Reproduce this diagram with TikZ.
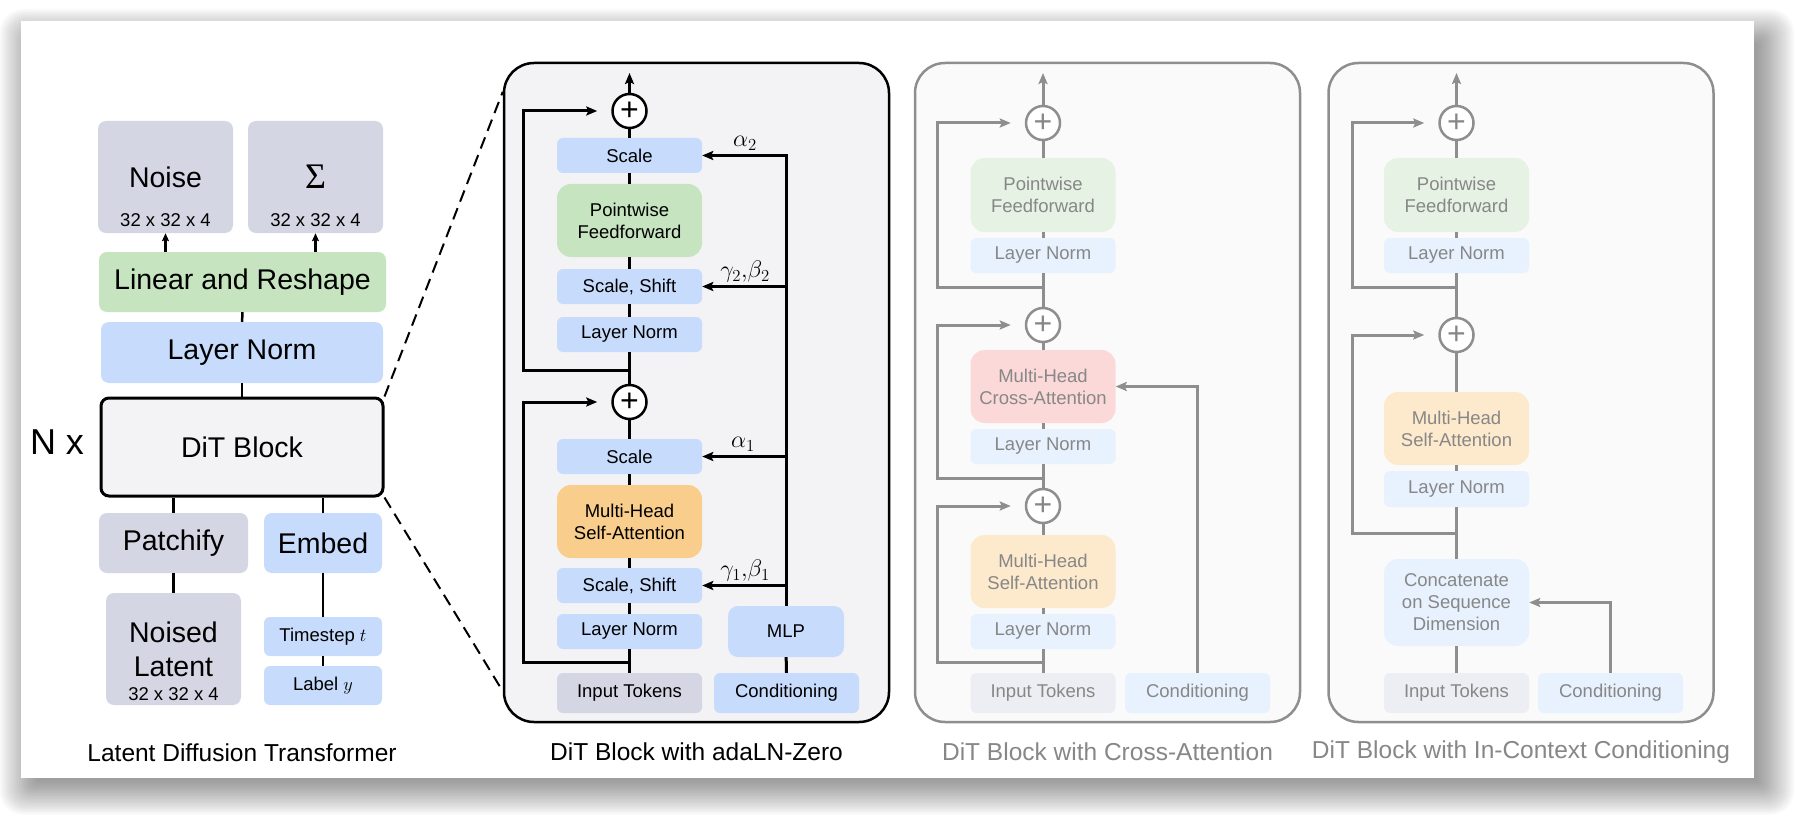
\documentclass[tikz,border=0pt]{standalone}
\usepackage{fix-cm}
\usepackage{fontspec}
\setmainfont{Liberation Sans}
\newfontfamily\greekserif{Liberation Serif}
\usetikzlibrary{arrows.meta,positioning}

\definecolor{tokgray}{RGB}{213,214,227}
\definecolor{ffngreen}{RGB}{197,228,191}
\definecolor{normblue}{RGB}{199,219,252}
\definecolor{attnorange}{RGB}{249,205,140}
\definecolor{panelfill}{RGB}{243,243,245}
\definecolor{tokgrayL}{RGB}{237,238,243}
\definecolor{ffngreenL}{RGB}{230,242,227}
\definecolor{normblueL}{RGB}{232,241,254}
\definecolor{attnorangeL}{RGB}{253,233,204}
\definecolor{crossred}{RGB}{252,217,217}
\definecolor{panelfillL}{RGB}{250,250,250}
\definecolor{fadeline}{RGB}{142,142,142}
\definecolor{fadetext}{RGB}{135,135,135}

\begin{document}
\begin{tikzpicture}[
  x=1pt, y=1pt,
  >={Stealth[length=11pt, width=9pt, inset=2pt]},
  box/.style     = {rounded corners=6pt, minimum width=145pt, minimum height=35pt, inner sep=0pt, align=center, font=\fontsize{18.5}{22}\selectfont},
  tallbox/.style = {box, minimum height=73pt, rounded corners=14pt},
  bigbox/.style  = {box, rounded corners=8pt, font=\fontsize{28.5}{34}\selectfont},
  sum/.style     = {draw, circle, fill=white, line width=2.5pt, minimum size=34pt, inner sep=0pt, font=\fontsize{32}{32}\selectfont},
  panel/.style   = {draw, line width=2.5pt, rounded corners=30pt, minimum width=385pt, minimum height=659pt},
  conn/.style    = {line width=3pt},
  line/.style    = {->, line width=3pt},
  lconn/.style   = {line width=2.5pt},
  smallarrow/.style = {line width=2.5pt, -{Stealth[length=8pt, width=7pt, inset=1.5pt]}},
  dashlink/.style = {line width=2pt, dash pattern=on 12pt off 7pt},
  fbox/.style    = {box, text=fadetext},
  ftallbox/.style = {tallbox, text=fadetext},
  fsum/.style    = {sum, draw=fadeline, text=fadetext},
  fconn/.style   = {conn, draw=fadeline},
  fline/.style   = {line, draw=fadeline},
  note/.style    = {font=\fontsize{24}{24}\selectfont, inner sep=0pt, anchor=base},
  dims/.style    = {font=\fontsize{18.5}{22}\selectfont, inner sep=0pt},
  caption/.style = {font=\fontsize{24.5}{28}\selectfont, inner sep=0pt}
]
\useasboundingbox (0,0) rectangle (1796,-821);

% Card with soft shadow
\foreach \i in {1,...,24}
  \fill[black, opacity=0.018, rounded corners=\i pt] (38-1.6*\i,-45+1.5*\i) rectangle (1756+1.6*\i,-780-1.45*\i);
\fill[white] (21,-21) rectangle (1754,-778);

% Latent Diffusion Transformer
\node[bigbox, fill=tokgray, minimum width=135pt, minimum height=112pt] (noise) at (165.5,-177) {Noise};
\node[dims] (noisedim) at (165.5,-220) {32 x 32 x 4};
\node[bigbox, fill=tokgray, minimum width=135pt, minimum height=112pt, font=\fontsize{36}{36}\greekserif] (sigma) at (315.5,-177) {Σ};
\node[dims] (sigmadim) at (315.5,-220) {32 x 32 x 4};
\node[bigbox, fill=ffngreen, minimum width=287pt, minimum height=60pt] (linear) at (242.5,-282) {Linear and Reshape};
\node[bigbox, fill=normblue, minimum width=282pt, minimum height=61pt] (lnorm) at (242,-352.5) {Layer Norm};
\node[bigbox, draw, fill=panelfill, line width=3pt, minimum width=282pt, minimum height=98pt] (dit) at (242,-447) {DiT Block};
\node[font=\fontsize{36}{36}\selectfont, inner sep=0pt] (nx) at (57,-442) {N x};
\node[bigbox, fill=tokgray, minimum width=149pt, minimum height=60pt] (patchify) at (173.5,-543) {Patchify};
\node[bigbox, fill=normblue, minimum width=118pt, minimum height=60pt] (embed) at (323,-543) {Embed};
\node[bigbox, fill=tokgray, minimum width=135pt, minimum height=112pt] (noised) at (173.5,-649) {Noised\\Latent};
\node[dims] (noiseddim) at (173.5,-694) {32 x 32 x 4};
\node[box, fill=normblue, minimum width=118pt, minimum height=39pt] (timestep) at (323,-636.5) {Timestep $t$};
\node[box, fill=normblue, minimum width=118pt, minimum height=39pt] (label) at (323,-685.5) {Label $y$};
\node[caption] (ldtcap) at (242,-753) {Latent Diffusion Transformer};

\draw[smallarrow] (noise.south |- linear.north) -- (noise.south);
\draw[smallarrow] (sigma.south |- linear.north) -- (sigma.south);
\draw[lconn] (linear) -- (lnorm);
\draw[lconn] (lnorm) -- (dit);
\draw[lconn] (patchify.north |- dit.south) -- (patchify.north);
\draw[lconn] (embed.north |- dit.south) -- (embed.north);
\draw[lconn] (patchify) -- (noised);
\draw[lconn] (embed) -- (timestep);
\draw[lconn] (timestep) -- (label);

% DiT Block with adaLN-Zero
\node[panel, fill=panelfill] (adapanel) at (696.5,-392.5) {};
\draw[dashlink] (dit.north east) -- ([yshift=-30pt]adapanel.north west);
\draw[dashlink] (dit.south east) -- ([yshift=32pt]adapanel.south west);

\node[box, fill=tokgray, minimum height=40pt] (tokA) at (629.5,-693) {Input Tokens};
\node[box, fill=normblue] (normA1) at (629.5,-631.5) {Layer Norm};
\node[box, fill=normblue] (shiftA1) at (629.5,-585.5) {Scale, Shift};
\node[tallbox, fill=attnorange] (attnA) at (629.5,-521.5) {Multi-Head\\Self-Attention};
\node[box, fill=normblue] (scaleA1) at (629.5,-456.5) {Scale};
\node[sum] (plusA1) at (629.5,-402) {+};
\node[box, fill=normblue] (normA2) at (629.5,-334.5) {Layer Norm};
\node[box, fill=normblue] (shiftA2) at (629.5,-286.5) {Scale, Shift};
\node[tallbox, fill=ffngreen] (ffnA) at (629.5,-220.5) {Pointwise\\Feedforward};
\node[box, fill=normblue] (scaleA2) at (629.5,-155.5) {Scale};
\node[sum] (plusA2) at (629.5,-111) {+};
\node[box, fill=normblue, minimum height=40pt] (condA) at (786.5,-693) {Conditioning};
\node[box, fill=normblue, minimum width=116pt, minimum height=51pt, rounded corners=10pt] (mlpA) at (786,-631.5) {MLP};
\coordinate (outA) at (629.5,-73);
\coordinate (skipA1) at (629.5,-662);
\coordinate (skipA2) at (629.5,-370);
\coordinate (leftA) at (523,0);

\foreach \a/\b in {tokA/normA1, normA1/shiftA1, shiftA1/attnA, attnA/scaleA1, scaleA1/plusA1,
                   plusA1/normA2, normA2/shiftA2, shiftA2/ffnA, ffnA/scaleA2, scaleA2/plusA2}
  \draw[conn] (\a) -- (\b);
\draw[line] (plusA2) -- (outA);
\draw[line, shorten >=14pt] (skipA1) -| (leftA |- plusA1) -- (plusA1);
\draw[line, shorten >=14pt] (skipA2) -| (leftA |- plusA2) -- (plusA2);

\draw[conn] (condA) -- (mlpA);
\draw[line] (mlpA.north) |- (scaleA2.east);
\foreach \b in {shiftA2, scaleA1, shiftA1}
  \draw[line] (mlpA.north |- \b.east) -- (\b.east);

\node[note] (alphaB) at (745,-146.5) {$\alpha_2$};
\node[note] (gammaB) at (745,-277.5) {$\gamma_2{,}\beta_2$};
\node[note] (alphaA) at (743,-447.5) {$\alpha_1$};
\node[note] (gammaA) at (745,-576.5) {$\gamma_1{,}\beta_1$};
\node[caption] (adacap) at (696.5,-752) {DiT Block with adaLN-Zero};

% DiT Block with Cross-Attention
\node[panel, draw=fadeline, fill=panelfillL] (crosspanel) at (1107.5,-392.5) {};
\node[fbox, fill=tokgrayL, minimum height=40pt] (tokC) at (1043,-693) {Input Tokens};
\node[fbox, fill=normblueL] (normC1) at (1043,-631.5) {Layer Norm};
\node[ftallbox, fill=attnorangeL] (attnC) at (1043,-571.5) {Multi-Head\\Self-Attention};
\node[fsum] (plusC1) at (1043,-506) {+};
\node[fbox, fill=normblueL] (normC2) at (1043,-446.5) {Layer Norm};
\node[ftallbox, fill=crossred] (crossC) at (1043,-386.5) {Multi-Head\\Cross-Attention};
\node[fsum] (plusC2) at (1043,-325) {+};
\node[fbox, fill=normblueL] (normC3) at (1043,-255.5) {Layer Norm};
\node[ftallbox, fill=ffngreenL, minimum height=74pt] (ffnC) at (1043,-195) {Pointwise\\Feedforward};
\node[fsum] (plusC3) at (1043,-123) {+};
\node[fbox, fill=normblueL, minimum height=40pt] (condC) at (1197.5,-693) {Conditioning};
\coordinate (outC) at (1043,-73);
\coordinate (skipC1) at (1043,-662);
\coordinate (skipC2) at (1043,-478);
\coordinate (skipC3) at (1043,-287);
\coordinate (leftC) at (937,0);

\foreach \a/\b in {tokC/normC1, normC1/attnC, attnC/plusC1, plusC1/normC2, normC2/crossC,
                   crossC/plusC2, plusC2/normC3, normC3/ffnC, ffnC/plusC3}
  \draw[fconn] (\a) -- (\b);
\draw[fline] (plusC3) -- (outC);
\draw[fline, shorten >=14pt] (skipC1) -| (leftC |- plusC1) -- (plusC1);
\draw[fline, shorten >=14pt] (skipC2) -| (leftC |- plusC2) -- (plusC2);
\draw[fline, shorten >=14pt] (skipC3) -| (leftC |- plusC3) -- (plusC3);
\draw[fline] (condC.north) |- (crossC.east);
\node[caption, text=fadetext] (crosscap) at (1107.5,-752) {DiT Block with Cross-Attention};

% DiT Block with In-Context Conditioning
\node[panel, draw=fadeline, fill=panelfillL] (ctxpanel) at (1521,-392.5) {};
\node[fbox, fill=tokgrayL, minimum height=40pt] (tokI) at (1456.5,-693) {Input Tokens};
\node[fbox, fill=normblueL, minimum height=87pt, rounded corners=14pt] (concatI) at (1456.5,-602.5) {Concatenate\\on Sequence\\Dimension};
\node[fbox, fill=normblueL, minimum height=36pt] (normI1) at (1456.5,-489) {Layer Norm};
\node[ftallbox, fill=attnorangeL] (attnI) at (1456.5,-428.5) {Multi-Head\\Self-Attention};
\node[fsum] (plusI1) at (1456.5,-335) {+};
\node[fbox, fill=normblueL] (normI2) at (1456.5,-255.5) {Layer Norm};
\node[ftallbox, fill=ffngreenL, minimum height=74pt] (ffnI) at (1456.5,-195) {Pointwise\\Feedforward};
\node[fsum] (plusI2) at (1456.5,-123) {+};
\node[fbox, fill=normblueL, minimum height=40pt] (condI) at (1610.5,-693) {Conditioning};
\coordinate (outI) at (1456.5,-73);
\coordinate (skipI1) at (1456.5,-533);
\coordinate (skipI2) at (1456.5,-287);
\coordinate (leftI) at (1352,0);

\foreach \a/\b in {tokI/concatI, concatI/normI1, normI1/attnI, attnI/plusI1,
                   plusI1/normI2, normI2/ffnI, ffnI/plusI2}
  \draw[fconn] (\a) -- (\b);
\draw[fline] (plusI2) -- (outI);
\draw[fline, shorten >=14pt] (skipI1) -| (leftI |- plusI1) -- (plusI1);
\draw[fline, shorten >=14pt] (skipI2) -| (leftI |- plusI2) -- (plusI2);
\draw[fline] (condI.north) |- (concatI.east);
\node[caption, text=fadetext] (ctxcap) at (1521,-752) {DiT Block with In-Context Conditioning};

\end{tikzpicture}
\end{document}
